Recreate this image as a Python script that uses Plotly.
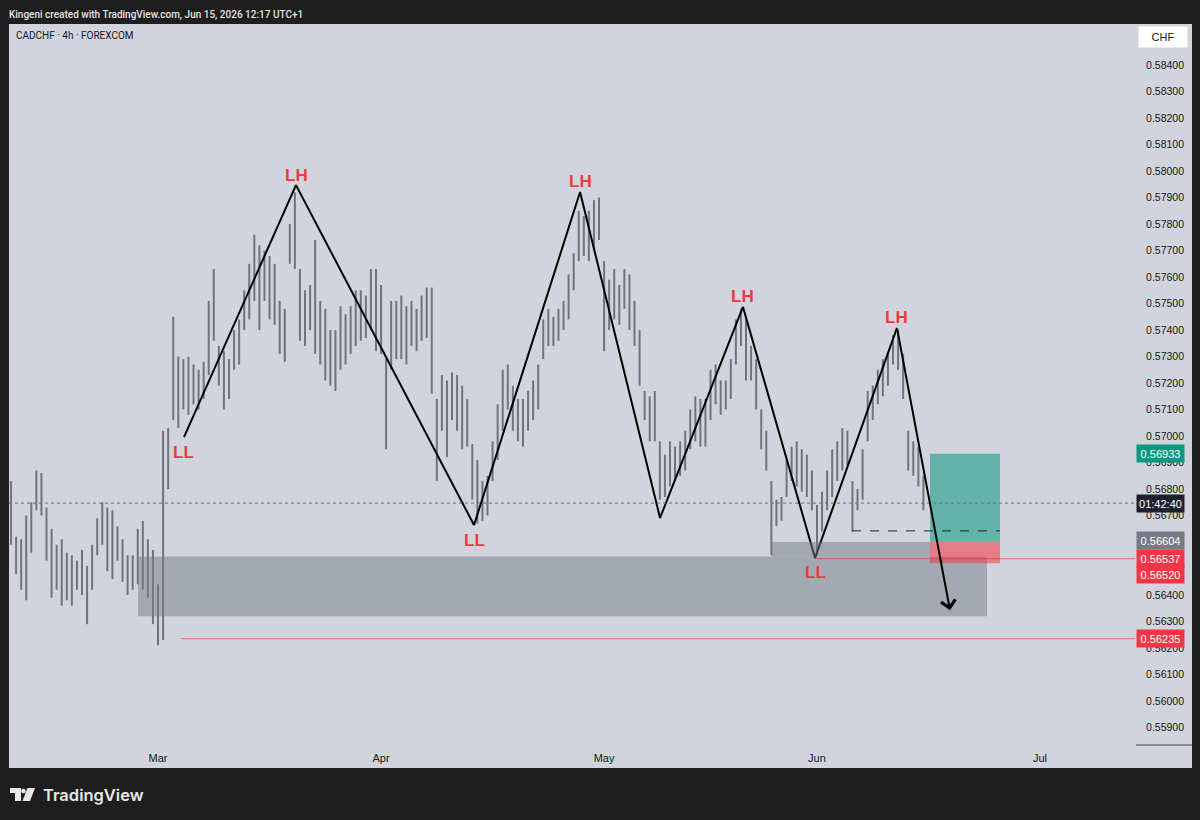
import numpy as np
import plotly.graph_objects as go

# x unit = trading day, Mar 2 2026 = 0; first bar Feb 10 12:00, last bar Jun 15 12:00
first_bar_day = -14.5
bar_high = [
    0.5683, 0.5662, 0.5661, 0.5670, 0.5675, 0.5687, 0.5686, 0.5673, 0.5665, 0.5659,
    0.5661, 0.5656, 0.5655, 0.5653, 0.5657, 0.5651, 0.5659, 0.5669, 0.5675, 0.5673,
    0.5672, 0.5666, 0.5661, 0.5655, 0.5655, 0.5665, 0.5668, 0.5661, 0.5657, 0.5644,
    0.5702, 0.5703, 0.5745, 0.5730, 0.5729, 0.5730, 0.5727, 0.5725, 0.5728, 0.5751,
    0.5763, 0.5734, 0.5732, 0.5729, 0.5740, 0.5744, 0.5755, 0.5765, 0.5776, 0.5772,
    0.5770, 0.5768, 0.5765, 0.5751, 0.5748, 0.5780, 0.5792, 0.5763, 0.5755, 0.5757,
    0.5774, 0.5751, 0.5748, 0.5740, 0.5740, 0.5749, 0.5746, 0.5749, 0.5755, 0.5755,
    0.5753, 0.5763, 0.5763, 0.5757, 0.5729, 0.5751, 0.5751, 0.5753, 0.5749, 0.5751,
    0.5748, 0.5753, 0.5756, 0.5756, 0.5714, 0.5723, 0.5721, 0.5724, 0.5723, 0.5719,
    0.5714, 0.5697, 0.5691, 0.5683, 0.5685, 0.5698, 0.5712, 0.5725, 0.5727, 0.5719,
    0.5714, 0.5714, 0.5717, 0.5721, 0.5727, 0.5744, 0.5748, 0.5745, 0.5748, 0.5751,
    0.5761, 0.5769, 0.5785, 0.5783, 0.5785, 0.5789, 0.5790, 0.5766, 0.5759, 0.5763,
    0.5757, 0.5763, 0.5761, 0.5751, 0.5740, 0.5717, 0.5715, 0.5717, 0.5698, 0.5693,
    0.5698, 0.5696, 0.5698, 0.5702, 0.5710, 0.5715, 0.5714, 0.5714, 0.5725, 0.5727,
    0.5721, 0.5721, 0.5729, 0.5744, 0.5748, 0.5745, 0.5734, 0.5729, 0.5710, 0.5702,
    0.5683, 0.5676, 0.5677, 0.5691, 0.5696, 0.5698, 0.5695, 0.5693, 0.5687, 0.5674,
    0.5679, 0.5687, 0.5695, 0.5698, 0.5703, 0.5702, 0.5683, 0.5680, 0.5695, 0.5717,
    0.5719, 0.5725, 0.5729, 0.5731, 0.5738, 0.5740, 0.5731, 0.5702, 0.5698, 0.5696,
    0.5685,
]
bar_low = [
    0.5659, 0.5648, 0.5642, 0.5638, 0.5656, 0.5672, 0.5670, 0.5653, 0.5639, 0.5642,
    0.5636, 0.5638, 0.5636, 0.5642, 0.5640, 0.5629, 0.5642, 0.5655, 0.5659, 0.5649,
    0.5646, 0.5653, 0.5645, 0.5640, 0.5642, 0.5644, 0.5642, 0.5639, 0.5629, 0.5621,
    0.5623, 0.5680, 0.5706, 0.5703, 0.5710, 0.5708, 0.5712, 0.5710, 0.5714, 0.5723,
    0.5736, 0.5719, 0.5710, 0.5714, 0.5725, 0.5727, 0.5740, 0.5744, 0.5751, 0.5740,
    0.5751, 0.5744, 0.5742, 0.5731, 0.5728, 0.5765, 0.5763, 0.5736, 0.5734, 0.5740,
    0.5731, 0.5727, 0.5721, 0.5719, 0.5717, 0.5725, 0.5727, 0.5731, 0.5734, 0.5736,
    0.5737, 0.5740, 0.5732, 0.5731, 0.5695, 0.5725, 0.5729, 0.5729, 0.5727, 0.5734,
    0.5732, 0.5736, 0.5737, 0.5716, 0.5683, 0.5702, 0.5692, 0.5706, 0.5702, 0.5695,
    0.5696, 0.5676, 0.5667, 0.5668, 0.5670, 0.5683, 0.5691, 0.5702, 0.5710, 0.5702,
    0.5698, 0.5696, 0.5702, 0.5706, 0.5710, 0.5729, 0.5734, 0.5734, 0.5736, 0.5740,
    0.5744, 0.5755, 0.5766, 0.5768, 0.5766, 0.5770, 0.5774, 0.5732, 0.5740, 0.5744,
    0.5742, 0.5748, 0.5740, 0.5734, 0.5719, 0.5706, 0.5698, 0.5698, 0.5676, 0.5677,
    0.5681, 0.5683, 0.5685, 0.5687, 0.5695, 0.5698, 0.5696, 0.5696, 0.5706, 0.5712,
    0.5708, 0.5710, 0.5714, 0.5727, 0.5734, 0.5721, 0.5721, 0.5710, 0.5695, 0.5687,
    0.5655, 0.5666, 0.5668, 0.5677, 0.5683, 0.5681, 0.5679, 0.5677, 0.5672, 0.5655,
    0.5664, 0.5672, 0.5677, 0.5683, 0.5687, 0.5689, 0.5664, 0.5672, 0.5676, 0.5698,
    0.5706, 0.5712, 0.5715, 0.5719, 0.5727, 0.5725, 0.5714, 0.5687, 0.5685, 0.5681,
    0.5672,
]

month_days = [0, 22, 44, 65, 87]
month_names = ["Mar", "Apr", "May", "Jun", "Jul"]

# drawings
zz_day = [2.56, 13.61, 31.17, 41.63, 49.52, 57.70, 64.81, 72.89]
zz_price = [0.56996, 0.57947, 0.56664, 0.57921, 0.56691, 0.57487, 0.56540, 0.57408]
zz_text = ["LL", "LH", "LL", "LH", "", "LH", "LL", "LH"]
arrow_day = 78.12
arrow_price = 0.56343

zone_days = [-1.97, 81.77]
zone_prices = [0.56320, 0.56545]
inner_days = [60.56, 76.15]
inner_prices = [0.56545, 0.56600]

pos_days = [76.15, 83.05]
pos_target = 0.56933
pos_entry = 0.56604
pos_stop = 0.56520

level_a, level_a_day = 0.56537, 64.81
level_b, level_b_day = 0.56235, 2.27
dash_level, dash_days = 0.56642, [68.46, 83.05]

last_price = 0.56747
countdown = "01:42:40"

# ---- layout geometry, in window pixels (page body adds an 8px margin) ----
BODY = 8
W, H = 1200 - BODY, 820 - BODY
PL, PR, PT, PB = 9, 1135, 24, 745
FR, FB = 1192, 768
X_RANGE = [-14.70, 96.37]
Y_RANGE = [0.55834, 0.58555]

BG = "#d1d4dc"
FRAME = "#1e1e1e"
TXT = "#131722"
RED = "#f23645"
FONT = "Liberation Sans"


def px(x):
    return (x - PL) / (PR - PL)


def py(y):
    return (PB - y) / (PB - PT)


def ppath(points):
    s = "M " + " L ".join(f"{px(a):.5f},{py(b):.5f}" for a, b in points)
    return s + " Z"


bar_day = first_bar_day + np.arange(len(bar_high)) / 2
seg_x, seg_y = [], []
for d, hi, lo in zip(bar_day, bar_high, bar_low):
    seg_x += [d, d, None]
    seg_y += [lo, hi, None]

fig = go.Figure()
fig.add_trace(go.Scatter(x=seg_x, y=seg_y, mode="lines",
                         line=dict(color="#70737c", width=2),
                         hoverinfo="skip", showlegend=False))
fig.add_trace(go.Scatter(x=zz_day, y=zz_price, mode="lines",
                         line=dict(color="#000000", width=2),
                         hoverinfo="skip", showlegend=False))

shapes = []
# chart frame background
shapes.append(dict(type="rect", xref="paper", yref="paper", x0=px(PL), x1=px(FR),
                   y0=py(FB), y1=py(PT), fillcolor=BG, line=dict(width=0), layer="below"))
# price scale bottom border
shapes.append(dict(type="line", xref="paper", yref="paper", x0=px(PR + 1), x1=px(FR),
                   y0=0, y1=0, line=dict(color="#4a4d57", width=1)))
# zones
shapes.append(dict(type="rect", xref="x", yref="y", x0=zone_days[0], x1=zone_days[1],
                   y0=zone_prices[0], y1=zone_prices[1],
                   fillcolor="rgba(120,123,134,0.5)", line=dict(width=0), layer="above"))
shapes.append(dict(type="rect", xref="x", yref="y", x0=inner_days[0], x1=inner_days[1],
                   y0=inner_prices[0], y1=inner_prices[1],
                   fillcolor="rgba(120,123,134,0.5)", line=dict(width=0), layer="above"))
# long position tool
shapes.append(dict(type="rect", xref="x", yref="y", x0=pos_days[0], x1=pos_days[1],
                   y0=pos_entry, y1=pos_target,
                   fillcolor="rgba(8,153,129,0.55)", line=dict(width=0), layer="above"))
shapes.append(dict(type="rect", xref="x", yref="y", x0=pos_days[0], x1=pos_days[1],
                   y0=pos_stop, y1=pos_entry,
                   fillcolor="rgba(242,54,69,0.55)", line=dict(width=0), layer="above"))
# horizontal levels
shapes.append(dict(type="line", xref="x", yref="y", x0=level_a_day, x1=X_RANGE[1],
                   y0=level_a, y1=level_a, line=dict(color="rgba(242,54,69,0.7)", width=1)))
shapes.append(dict(type="line", xref="x", yref="y", x0=level_b_day, x1=X_RANGE[1],
                   y0=level_b, y1=level_b, line=dict(color="rgba(242,54,69,0.7)", width=1)))
shapes.append(dict(type="line", xref="x", yref="y", x0=dash_days[0], x1=dash_days[1],
                   y0=dash_level, y1=dash_level, line=dict(color="#222222", width=1, dash="dash")))
shapes.append(dict(type="line", xref="x", yref="y", x0=X_RANGE[0], x1=X_RANGE[1],
                   y0=last_price, y1=last_price, line=dict(color="#6a6d78", width=1, dash="dot")))
# TradingView logo
shapes.append(dict(type="path", xref="paper", yref="paper", fillcolor="#e8e8e8", line=dict(width=0),
                   path=ppath([(10, 788), (21, 788), (21, 801), (15, 801), (15, 793), (10, 793)])))
shapes.append(dict(type="circle", xref="paper", yref="paper", fillcolor="#e8e8e8", line=dict(width=0),
                   x0=px(21.2), x1=px(25.8), y0=py(793.3), y1=py(788.7)))
shapes.append(dict(type="path", xref="paper", yref="paper", fillcolor="#e8e8e8", line=dict(width=0),
                   path=ppath([(27.5, 788), (35, 788), (30, 801), (22.5, 801)])))

ann = []
# header texts
ann.append(dict(xref="paper", yref="paper", x=px(8), y=py(15), xanchor="left", yanchor="middle",
                text="Kingeni created with TradingView.com, Jun 15, 2026 12:17 UTC+1", borderpad=0,
                showarrow=False, font=dict(family="Roboto", size=10, color="#e4e4e4", weight=500)))
ann.append(dict(xref="paper", yref="paper", x=px(14), y=py(36), xanchor="left", yanchor="middle",
                text="CADCHF · 4h · FOREXCOM", showarrow=False,
                font=dict(family="Roboto", size=10, color=TXT)))
ann.append(dict(xref="paper", yref="paper", x=px(1163), y=py(37), xanchor="center", yanchor="middle",
                text="CHF", showarrow=False, bgcolor="#ffffff", width=42, height=14, borderpad=3,
                font=dict(family=FONT, size=11, color=TXT)))
ann.append(dict(xref="paper", yref="paper", x=px(41), y=py(795), xanchor="left", yanchor="middle",
                text="TradingView", showarrow=False,
                font=dict(family="Inter", size=16.5, color="#e8e8e8", weight=600)))

# swing labels
for d, p, t in zip(zz_day, zz_price, zz_text):
    if not t:
        continue
    ann.append(dict(x=d, y=p, text=t, showarrow=False, xanchor="center", yanchor="middle",
                    yshift=10 if t == "LH" else -15,
                    font=dict(family=FONT, size=17, color=RED, weight="bold")))

# final leg with arrow head
ann.append(dict(x=arrow_day, y=arrow_price, ax=zz_day[-1], ay=zz_price[-1], axref="x", ayref="y",
                text="", showarrow=True, arrowhead=4, arrowsize=1.4, arrowwidth=2,
                arrowcolor="#000000", standoff=0, startstandoff=0))

# price scale tags
tags = [
    (pos_target, f"{pos_target:.5f}", "#089981", 0),
    (last_price, countdown, "#1e222d", 0),
    (pos_entry, f"{pos_entry:.5f}", "#787b86", 0),
    (level_a, f"{level_a:.5f}", RED, 0),
    (pos_stop, f"{pos_stop:.5f}", RED, -11),
    (level_b, f"{level_b:.5f}", RED, 0),
]
for p, t, c, shift in tags:
    ann.append(dict(xref="paper", yref="y", x=px(1136), y=p, xanchor="left", yanchor="middle",
                    yshift=shift, text=t, showarrow=False, bgcolor=c, width=43, height=13,
                    borderpad=2, font=dict(family=FONT, size=11, color="#ffffff")))

# price scale: labels covered by the tags are not drawn
price_ticks = [v for v in np.round(np.arange(0.559, 0.5845, 0.001), 3) if v not in (0.565, 0.566)]

fig.update_layout(
    width=W, height=H,
    margin=dict(l=PL - BODY, r=1200 - PR, t=PT - BODY, b=820 - PB, pad=0),
    paper_bgcolor=FRAME, plot_bgcolor=BG,
    shapes=shapes, annotations=ann, showlegend=False,
    xaxis=dict(range=X_RANGE, tickmode="array", tickvals=month_days, ticktext=month_names,
               ticks="outside", ticklen=3, tickcolor="rgba(0,0,0,0)", showgrid=False,
               zeroline=False, showline=False, fixedrange=True,
               tickfont=dict(family=FONT, size=11, color=TXT)),
    yaxis=dict(range=Y_RANGE, side="right", tickmode="array", tickvals=price_ticks,
               ticktext=[f"{v:.5f}" for v in price_ticks], ticks="outside", ticklen=8,
               tickcolor="rgba(0,0,0,0)", showgrid=False, zeroline=False, showline=False,
               fixedrange=True, tickfont=dict(family=FONT, size=10.5, color=TXT)),
)

fig.write_html("out.html", post_script="document.body.style.background = '#1e1e1e';")
